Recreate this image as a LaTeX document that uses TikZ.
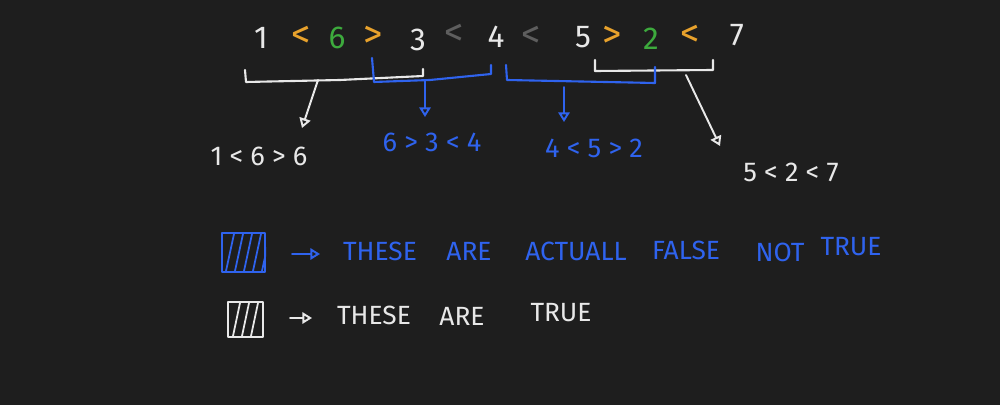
\documentclass[tikz,border=0pt]{standalone}
\usepackage{fontspec}
\setmainfont{Fira Sans}
\usetikzlibrary{arrows.meta}
\definecolor{bg}{HTML}{1E1E1E}
\definecolor{wh}{HTML}{E8E8E8}
\definecolor{orn}{HTML}{E8A22C}
\definecolor{grn}{HTML}{3DAA3D}
\definecolor{gry}{HTML}{5E5E5E}
\definecolor{blu}{HTML}{2F63EE}
\begin{document}
\begin{tikzpicture}[x=0.02cm,y=-0.02cm,
  dig/.style={font=\fontsize{18}{20}\selectfont, inner sep=0pt, anchor=center},
  cmp/.style={font=\fontsize{22}{24}\selectfont, inner sep=0pt, anchor=center},
  eq/.style={font=\fontsize{15.5}{18}\selectfont, inner sep=0pt},
  lg/.style={font=\fontsize{15}{18}\selectfont, inner sep=0pt},
  brk/.style={line width=1.2pt, line join=round, line cap=round},
  arr/.style={line width=1.1pt, line cap=round, -{Triangle[open,length=5.5pt,width=6.5pt]}},
  hatchbox/.style={line width=1.2pt, line join=round}]
\fill[bg] (0,0) rectangle (1000,405);
\useasboundingbox (0,0) rectangle (1000,405);

% top row
\node[dig,wh]  (n1) at (261,38) {1};
\node[cmp,orn] (c1) at (301,37) {<};
\node[dig,grn] (n6) at (337,38) {6};
\node[cmp,orn] (c2) at (373,37) {>};
\node[dig,wh]  (n3) at (418,40) {3};
\node[cmp,gry] (c3) at (454,35) {<};
\node[dig,wh]  (n4) at (496,37) {4};
\node[cmp,gry] (c4) at (531,37) {<};
\node[dig,wh]  (n5) at (583,37) {5};
\node[cmp,orn] (c5) at (612,37) {>};
\node[dig,grn] (n2) at (651,39) {2};
\node[cmp,orn] (c6) at (690,36) {<};
\node[dig,wh]  (n7) at (737,35) {7};

% brackets
\draw[brk,wh]  (245,70) -- (246,82) -- (340,80) -- (423,76) -- (423,69);
\draw[brk,wh]  (595,60) -- (595,71) -- (713,70) -- (713,60);
\draw[brk,blu] (372,58) -- (374,82) -- (430,80) -- (491,74) -- (491,65);
\draw[brk,blu] (506,65) -- (507,80) -- (655,83) -- (655,67);

\coordinate (a1s) at (318,80);
\coordinate (a2s) at (425,81);
\coordinate (a3s) at (564,87);
\coordinate (a4s) at (686,75);
\coordinate (a1e) at (302,128);
\coordinate (a2e) at (425,117);
\coordinate (a3e) at (564,122);
\coordinate (a4e) at (720,146);

% results
\node[eq,wh]  (e1) at (259,156) {1 < 6 > 6};
\node[eq,blu] (e2) at (432,142) {6 > 3 < 4};
\node[eq,blu] (e3) at (594,148) {4 < 5 > 2};
\node[eq,wh]  (e4) at (791,172) {5 < 2 < 7};

\draw[arr,wh]  (a1s) -- (a1e);
\draw[arr,blu] (a2s) -- (a2e);
\draw[arr,blu] (a3s) -- (a3e);
\draw[arr,wh]  (a4s) -- (a4e);

% legend: blue box
\node[draw=blu, hatchbox, minimum width=0.86cm, minimum height=0.78cm, inner sep=0pt] (bbox) at (243.5,252.5) {};
\begin{scope}
\clip (bbox.south west) rectangle (bbox.north east);
\foreach \t in {234,243,252,261,270}
  \draw[blu, line width=1pt] (\t,234) -- (\t-8,271);
\end{scope}
\coordinate (b1s) at (292,254);
\coordinate (b1e) at (320,254);
\draw[arr,blu] (b1s) -- (b1e);
\node[lg,blu] (w1) at (380,251) {THESE};
\node[lg,blu] (w2) at (469,251) {ARE};
\node[lg,blu] (w3) at (576,251) {ACTUALL};
\node[lg,blu] (w4) at (686,250) {FALSE};
\node[lg,blu] (w5) at (780,252) {NOT};
\node[lg,blu] (w6) at (851,247) {TRUE};

% legend: white box
\node[draw=wh, hatchbox, minimum width=0.7cm, minimum height=0.7cm, inner sep=0pt] (wbox) at (245.5,319.5) {};
\begin{scope}
\clip (wbox.south west) rectangle (wbox.north east);
\foreach \t in {240,249,258}
  \draw[wh, line width=1pt] (\t,303) -- (\t-7,336);
\end{scope}
\coordinate (b2s) at (290,318);
\coordinate (b2e) at (312,318);
\draw[arr,wh] (b2s) -- (b2e);
\node[lg,wh] (v1) at (374,315) {THESE};
\node[lg,wh] (v2) at (462,316) {ARE};
\node[lg,wh] (v3) at (561,313) {TRUE};
\end{tikzpicture}
\end{document}
